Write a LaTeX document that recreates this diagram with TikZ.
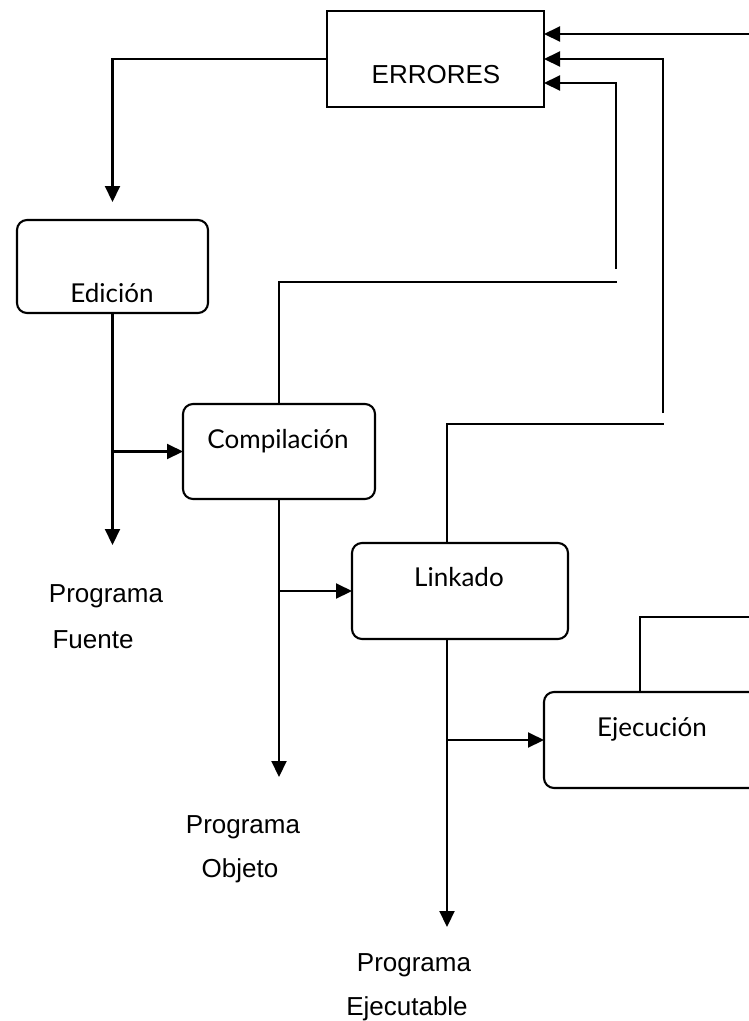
\documentclass[tikz,border=0pt]{standalone}
\usepackage{fontspec}
\setmainfont{Liberation Sans}
\newfontfamily\boxfont{Lato}
\usetikzlibrary{arrows.meta}
\begin{document}
\begin{tikzpicture}[x=1pt,y=-1pt,
  line width=2.1pt,
  arr/.style={-{Triangle[length=16pt,width=15pt]}},
  proc/.style={draw, rounded corners=10pt, inner sep=0pt, outer sep=0pt, anchor=north west},
  errbox/.style={draw, inner sep=0pt, outer sep=0pt, anchor=north west},
  lbl/.style={font=\boxfont\fontsize{26}{30}\selectfont, anchor=base, inner sep=0pt},
  txt/.style={font=\fontsize{26}{30}\selectfont, anchor=base, inner sep=0pt}]
\clip (0,0) rectangle (749,1021);
% boxes
\node[errbox, minimum width=217pt, minimum height=96pt] (errores) at (327,11) {};
\node[txt] (erroreslbl) at (436,83) {ERRORES};
\node[proc, minimum width=191pt, minimum height=93pt] (edicion) at (17,220) {};
\node[lbl] (edicionlbl) at (112,302) {Edición};
\node[proc, minimum width=192pt, minimum height=95pt] (compilacion) at (183,404) {};
\node[lbl] (compilacionlbl) at (278,448) {Compilación};
\node[proc, minimum width=216pt, minimum height=96pt] (linkado) at (352,543) {};
\node[lbl] (linkadolbl) at (459,586) {Linkado};
\node[proc, minimum width=240pt, minimum height=96pt] (ejecucion) at (544,692) {};
\node[lbl] (ejecucionlbl) at (652,736) {Ejecución};
% output labels
\node[txt] (pf1) at (106,602) {Programa};
\node[txt] (pf2) at (93,648) {Fuente};
\node[txt] (po1) at (243,833) {Programa};
\node[txt] (po2) at (240,877) {Objeto};
\node[txt] (pe1) at (414,971) {Programa};
\node[txt] (pe2) at (407,1015) {Ejecutable};
% free ends
\coordinate (fuenteend) at (112.5,545);
\coordinate (objetoend) at (279,777);
\coordinate (ejecend) at (447,927);
\coordinate (compturn) at (617,282);
\coordinate (compup) at (616,269);
\coordinate (linkturn) at (664,424);
\coordinate (linkup) at (663,413);
\coordinate (ejecturn) at (760,617);
\coordinate (ejecin) at (760,34);
% connectors
\draw[arr] (errores.west) -| ([yshift=18pt]edicion.north);
\draw[arr] (edicion.south) -- (edicion.south |- fuenteend);
\draw[arr] (edicion.south |- compilacion.west) -- (compilacion.west);
\draw[arr] (compilacion.south) -- (compilacion.south |- objetoend);
\draw[arr] (compilacion.south |- linkado.west) -- (linkado.west);
\draw[arr] ([xshift=-13pt]linkado.south) -- ([xshift=-13pt]linkado.south |- ejecend);
\draw[arr] ([xshift=-13pt]linkado.south |- ejecucion.west) -- (ejecucion.west);
\draw (compilacion.north) |- (compturn);
\draw[arr] (compup) |- ([yshift=-24pt]errores.east);
\draw ([xshift=-13pt]linkado.north) |- (linkturn);
\draw[arr] (linkup) |- (errores.east);
\draw ([xshift=-24pt]ejecucion.north) |- (ejecturn);
\draw[arr] (ejecin) -- ([yshift=25pt]errores.east);
\end{tikzpicture}
\end{document}
